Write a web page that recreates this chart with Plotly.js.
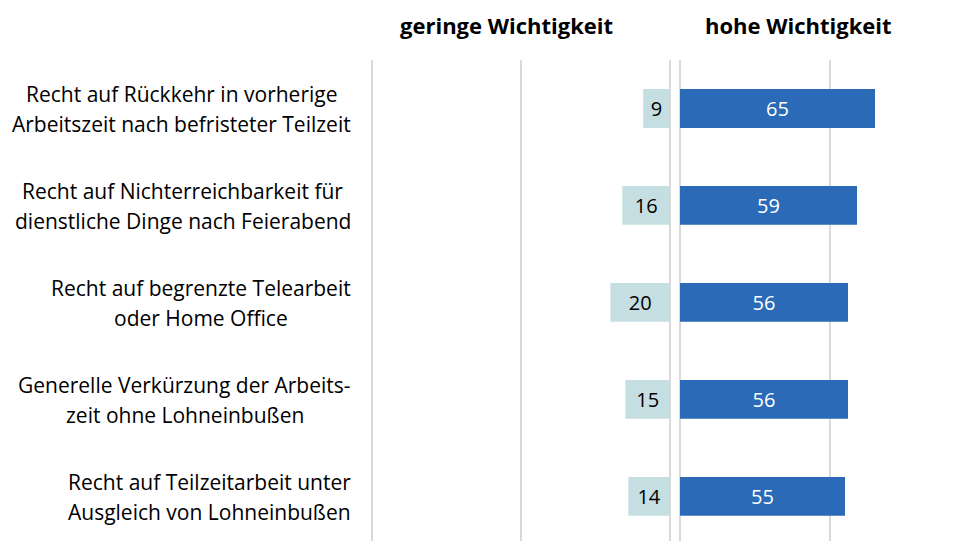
<!DOCTYPE html>
<html><head><meta charset="utf-8">
<script src="https://cdn.plot.ly/plotly-3.0.1.min.js"></script>
<style>body{margin:0;padding:0;background:#fff}#chart{width:965px;height:541px}</style>
</head><body><div id="chart"></div>
<script>
const categories = ["c1","c2","c3","c4","c5"];
const labelLine1 = ["Recht auf Rückkehr in vorherige","Recht auf Nichterreichbarkeit für","Recht auf begrenzte Telearbeit","Generelle Verkürzung der Arbeits-","Recht auf Teilzeitarbeit unter"];
const labelLine2 = ["Arbeitszeit nach befristeter Teilzeit","dienstliche Dinge nach Feierabend","oder Home Office","zeit ohne Lohneinbußen","Ausgleich von Lohneinbußen"];
const geringe = [9,16,20,15,14];
const hohe = [65,59,56,56,55];
const headerLeft = "geringe Wichtigkeit";
const headerRight = "hohe Wichtigkeit";

const FONT = "'Open Sans', sans-serif";
const LABEL_SIZE = 21;
const W = 965, H = 541, T = 60;
const LABEL_RIGHT = 351;

const ctx = document.createElement('canvas').getContext('2d');
ctx.font = LABEL_SIZE + "px 'Open Sans', sans-serif";
const measure = s => ctx.measureText(s).width;

const traces = [
  {type:'bar', orientation:'h', y:categories, x:geringe, xaxis:'x', yaxis:'y',
   marker:{color:'#c4dee2'}, width:0.4, text:geringe.map(String), textposition:'inside',
   insidetextanchor:'middle', constraintext:'none', textfont:{color:'#000', size:20, family:FONT},
   hoverinfo:'skip'},
  {type:'bar', orientation:'h', y:categories, x:hohe, xaxis:'x2', yaxis:'y',
   marker:{color:'#2a6ab7'}, width:0.4, text:hohe.map(String), textposition:'inside',
   insidetextanchor:'middle', constraintext:'none', textfont:{color:'#fff', size:20, family:FONT},
   hoverinfo:'skip'}
];
const annotations = [];
categories.forEach((c,i)=>{
  const bw = Math.max(measure(labelLine1[i]), measure(labelLine2[i]));
  const cx = (LABEL_RIGHT - bw/2) / W;
  annotations.push({xref:'paper', yref:'y', x:cx, y:c, text:labelLine1[i], showarrow:false,
    xanchor:'center', yanchor:'middle', yshift:14, font:{size:LABEL_SIZE, family:FONT, color:'#000'}});
  annotations.push({xref:'paper', yref:'y', x:cx, y:c, text:labelLine2[i], showarrow:false,
    xanchor:'center', yanchor:'middle', yshift:-16, font:{size:LABEL_SIZE, family:FONT, color:'#000'}});
});
annotations.push({xref:'paper', yref:'paper', x:507/W, y:1+(T-25)/(H-T), text:'<b>'+headerLeft+'</b>',
  showarrow:false, xanchor:'center', yanchor:'middle', font:{size:22, family:FONT, color:'#000'}});
annotations.push({xref:'paper', yref:'paper', x:798/W, y:1+(T-25)/(H-T), text:'<b>'+headerRight+'</b>',
  showarrow:false, xanchor:'center', yanchor:'middle', font:{size:22, family:FONT, color:'#000'}});

const layout = {
  width:W, height:H, margin:{l:0,r:0,t:T,b:0}, paper_bgcolor:'#fff', plot_bgcolor:'#fff',
  showlegend:false, bargap:0.6,
  xaxis:{domain:[369/W, 670/W], range:[101,0], dtick:50, showticklabels:false, showgrid:true,
    gridcolor:'#d9d9d9', gridwidth:2, zeroline:true, zerolinecolor:'#d9d9d9', zerolinewidth:2, fixedrange:true},
  xaxis2:{domain:[680/W, 1], range:[0,95], dtick:50, showticklabels:false, showgrid:true,
    gridcolor:'#d9d9d9', gridwidth:2, zeroline:true, zerolinecolor:'#d9d9d9', zerolinewidth:2, anchor:'y', fixedrange:true},
  yaxis:{type:'category', range:[4.46,-0.5], showticklabels:false, showgrid:false, zeroline:false, fixedrange:true},
  annotations:annotations
};
Plotly.newPlot('chart', traces, layout, {staticPlot:true});
</script></body></html>
